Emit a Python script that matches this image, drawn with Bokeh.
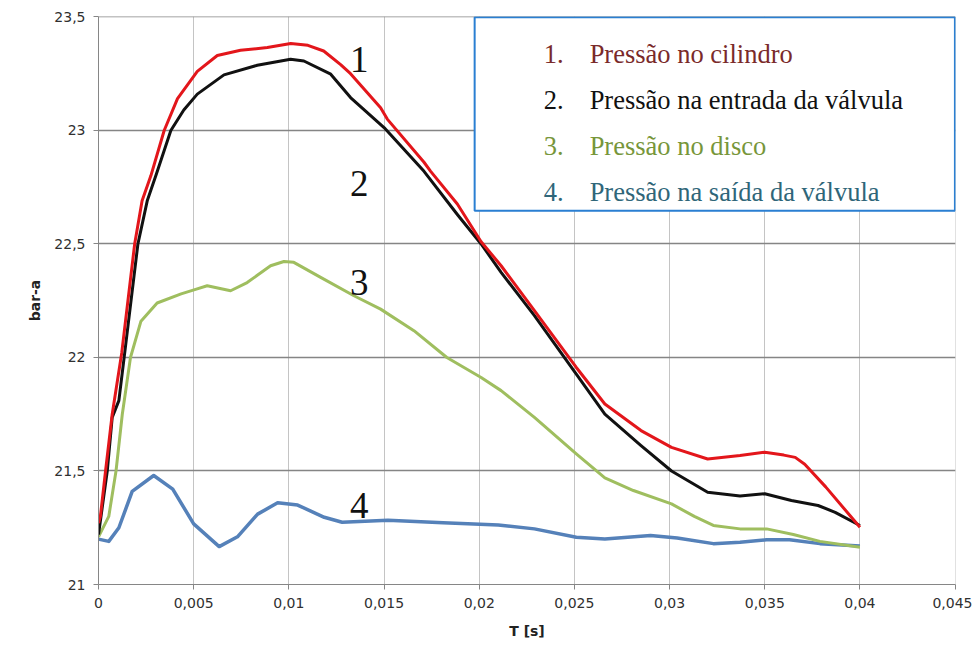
from bokeh.plotting import figure
from bokeh.models import FixedTicker, CustomJSTickFormatter, BoxAnnotation, Label
from bokeh.embed import file_html
from bokeh.resources import INLINE

# ---- data (time in seconds, pressure in bar-a) ----
t_cil = [0, 0.0001, 0.00037, 0.00072, 0.00122, 0.0019, 0.00229, 0.00275, 0.00345, 0.00415,
         0.00519, 0.00624, 0.00746, 0.00887, 0.0101, 0.011, 0.01183, 0.01272, 0.01324, 0.01482,
         0.01517, 0.0171, 0.01745, 0.01885, 0.0201, 0.02115, 0.0229, 0.0251, 0.0266, 0.0285,
         0.0301, 0.032, 0.0337, 0.035, 0.036, 0.0366, 0.0371, 0.0382, 0.040]
p_cil = [21.27, 21.30, 21.50, 21.75, 22.02, 22.50, 22.69, 22.80, 23.00, 23.14,
         23.26, 23.33, 23.353, 23.365, 23.383, 23.375, 23.35, 23.29, 23.25, 23.10,
         23.05, 22.86, 22.82, 22.676, 22.51, 22.404, 22.206, 21.956, 21.795, 21.678,
         21.604, 21.553, 21.568, 21.583, 21.57, 21.56, 21.53, 21.43, 21.252]

t_ent = [0, 0.00046, 0.00072, 0.00107, 0.00142, 0.00207, 0.00256, 0.00305, 0.0038, 0.00448,
         0.00519, 0.00659, 0.00834, 0.01009, 0.01079, 0.0122, 0.01324, 0.015, 0.0171, 0.01885,
         0.0201, 0.02115, 0.0229, 0.0251, 0.0266, 0.0285, 0.0301, 0.032, 0.0337, 0.035,
         0.0364, 0.0378, 0.0387, 0.040]
p_ent = [21.22, 21.50, 21.736, 21.81, 22.05, 22.50, 22.69, 22.81, 23.00, 23.09,
         23.16, 23.245, 23.287, 23.314, 23.306, 23.248, 23.145, 23.013, 22.82, 22.63,
         22.50, 22.375, 22.184, 21.927, 21.75, 21.612, 21.50, 21.406, 21.39, 21.40,
         21.37, 21.348, 21.318, 21.26]

t_dis = [0, 0.00054, 0.00092, 0.00125, 0.00168, 0.00223, 0.00308, 0.00434, 0.0051, 0.00571,
         0.00694, 0.00781, 0.00904, 0.00974, 0.01026, 0.01167, 0.01342, 0.01482, 0.01657, 0.0183,
         0.0201, 0.02115, 0.0229, 0.0251, 0.0266, 0.0281, 0.0301, 0.0313, 0.0323, 0.0337,
         0.0351, 0.0365, 0.0379, 0.040]
p_dis = [21.21, 21.30, 21.50, 21.75, 22.00, 22.16, 22.24, 22.28, 22.30, 22.316,
         22.294, 22.33, 22.404, 22.423, 22.419, 22.353, 22.272, 22.213, 22.118, 22.00,
         21.912, 21.854, 21.736, 21.575, 21.47, 21.414, 21.355, 21.30, 21.26, 21.245,
         21.245, 21.22, 21.19, 21.164]

t_sai = [0, 0.00054, 0.00107, 0.00177, 0.0029, 0.0039, 0.005, 0.00634, 0.0073, 0.00836,
         0.00941, 0.01046, 0.01186, 0.0128, 0.0152, 0.0181, 0.021, 0.0229, 0.0251, 0.0266,
         0.029, 0.0304, 0.0323, 0.0337, 0.0351, 0.0363, 0.0379, 0.040]
p_sai = [21.20, 21.19, 21.25, 21.41, 21.48, 21.42, 21.267, 21.167, 21.21, 21.31,
         21.36, 21.35, 21.296, 21.274, 21.283, 21.272, 21.262, 21.245, 21.208, 21.20,
         21.216, 21.205, 21.18, 21.186, 21.197, 21.197, 21.18, 21.17]

x_ticks = [0, 0.005, 0.01, 0.015, 0.02, 0.025, 0.03, 0.035, 0.04, 0.045]
y_ticks = [21, 21.5, 22, 22.5, 23, 23.5]

legend_nums = ["1.", "2.", "3.", "4."]
legend_texts = ["Pressão no cilindro", "Pressão na entrada da válvula",
                "Pressão no disco", "Pressão na saída da válvula"]
curve_nums = ["1", "2", "3", "4"]

# ---- figure ----
p = figure(frame_width=857, frame_height=568, x_range=(0, 0.04502), y_range=(21, 23.502),
           output_backend="svg", toolbar_location=None,
           min_border_left=98, min_border_right=17, min_border_top=16, min_border_bottom=54)
p.outline_line_color = None
p.background_fill_color = "white"

fmt = CustomJSTickFormatter(code="return String(tick).replace('.', ',');")
for ax, ticks in ((p.xaxis[0], x_ticks), (p.yaxis[0], y_ticks)):
    ax.ticker = FixedTicker(ticks=ticks)
    ax.formatter = fmt
    ax.axis_line_color = "#868686"
    ax.major_tick_line_color = "#868686"
    ax.major_tick_out = 5
    ax.major_tick_in = 0
    ax.minor_tick_line_color = None
    ax.major_label_text_font = "DejaVu Sans"
    ax.major_label_text_font_size = "14px"
    ax.major_label_text_color = "#303030"
    ax.major_label_standoff = 8
    ax.axis_label_text_font = "DejaVu Sans"
    ax.axis_label_text_font_style = "bold"
    ax.axis_label_text_font_size = "14px"
    ax.axis_label_text_color = "#222222"

p.xaxis.axis_label = "T [s]"
p.yaxis.axis_label = "bar-a"
p.xaxis.axis_label_standoff = 12
p.yaxis.axis_label_standoff = 8

p.xgrid.ticker = FixedTicker(ticks=x_ticks)
p.ygrid.ticker = FixedTicker(ticks=y_ticks)
p.xgrid.grid_line_color = "#c4c4c4"
p.xgrid.grid_line_width = 1
p.ygrid.grid_line_color = "#858585"
p.ygrid.grid_line_width = 1.5

# ---- curves ----
p.line(t_sai, p_sai, line_color="#5581b9", line_width=3.5, line_join="round")
p.line(t_dis, p_dis, line_color="#9fbe5f", line_width=3, line_join="round")
p.line(t_ent, p_ent, line_color="#111111", line_width=3, line_join="round")
p.line(t_cil, p_cil, line_color="#e3161b", line_width=3, line_join="round")

# ---- curve numbers ----
num_x = [0.0137, 0.0137, 0.0137, 0.0137]
num_y = [23.311, 22.765, 22.33, 21.348]
for s, xx, yy in zip(curve_nums, num_x, num_y):
    p.add_layout(Label(x=xx, y=yy, text=s, text_font="Liberation Serif",
                       text_font_size="37px", text_align="center",
                       text_baseline="alphabetic", text_color="#111111"))

# ---- legend box ----
p.add_layout(BoxAnnotation(left=0.01976, right=0.04499, bottom=22.646, top=23.499,
                           fill_color="white", fill_alpha=1,
                           line_color="#2a7fd2", line_width=2, line_alpha=1))
leg_colors = ["#7a2a2a", "#111111", "#77963a", "#2f6679"]
leg_y = [23.338, 23.133, 22.932, 22.731]
for n, txt, c, yy in zip(legend_nums, legend_texts, leg_colors, leg_y):
    p.add_layout(Label(x=0.02339, y=yy, text=n, text_font="Liberation Serif",
                       text_font_size="26.5px", text_color=c, text_baseline="alphabetic"))
    p.add_layout(Label(x=0.0258, y=yy, text=txt, text_font="Liberation Serif",
                       text_font_size="26.5px", text_color=c, text_baseline="alphabetic"))

open("out.html", "w").write(file_html(p, INLINE))
